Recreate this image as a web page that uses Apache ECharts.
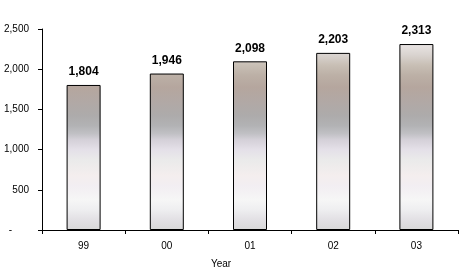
<!DOCTYPE html>
<html><head><meta charset="utf-8">
<script src="https://cdn.jsdelivr.net/npm/echarts@6/dist/echarts.min.js"></script>
<style>html,body{margin:0;padding:0;background:#fff}#c{width:459px;height:269px}</style>
</head><body><div id="c"></div>
<script>
const categories = ['99', '00', '01', '02', '03'];
const values = [1804, 1946, 2098, 2203, 2313];
const yTicks = [0, 500, 1000, 1500, 2000, 2500];

const W = 459, H = 269;
const grid = {left: 42, right: 1, top: 29, bottom: 39, containLabel: false, outerBoundsMode: 'none'};
const fill = new echarts.graphic.LinearGradient(0, grid.top, 0, H - grid.bottom, [
  {offset: 0.00, color: '#f0eded'},
  {offset: 0.07, color: '#ebe6e6'},
  {offset: 0.13, color: '#d9d3cf'},
  {offset: 0.18, color: '#c8bfb5'},
  {offset: 0.23, color: '#bcb0a6'},
  {offset: 0.29, color: '#b5a69e'},
  {offset: 0.35, color: '#b2a8a4'},
  {offset: 0.43, color: '#adabab'},
  {offset: 0.48, color: '#b2b2b4'},
  {offset: 0.52, color: '#c0c0c4'},
  {offset: 0.55, color: '#d4d0d8'},
  {offset: 0.60, color: '#e4e0e8'},
  {offset: 0.65, color: '#eaeaea'},
  {offset: 0.73, color: '#f4eeee'},
  {offset: 0.78, color: '#f2eef2'},
  {offset: 0.85, color: '#f6f6f6'},
  {offset: 0.90, color: '#eeeef0'},
  {offset: 0.95, color: '#e2e0e4'},
  {offset: 1.00, color: '#d8d8d8'}
], true);

const chart = echarts.init(document.getElementById('c'), null, {renderer: 'canvas'});
chart.setOption({
  animation: false,
  grid: grid,
  xAxis: {
    type: 'category',
    data: categories,
    name: 'Year',
    nameLocation: 'middle',
    nameGap: 29,
    nameTextStyle: {fontFamily: 'Liberation Sans', fontSize: 10, color: '#000', padding: [0, 58, 0, 0]},
    axisLine: {lineStyle: {color: '#000', width: 1}},
    axisTick: {show: true, length: 4, lineStyle: {color: '#000'}},
    axisLabel: {fontFamily: 'Liberation Sans', fontSize: 10, color: '#000', margin: 11}
  },
  yAxis: {
    type: 'value',
    min: yTicks[0],
    max: yTicks[yTicks.length - 1],
    interval: 500,
    axisLine: {show: true, lineStyle: {color: '#000', width: 1}},
    axisTick: {show: true, length: 4, lineStyle: {color: '#000'}},
    splitLine: {show: false},
    axisLabel: {
      fontFamily: 'Liberation Sans', fontSize: 10, color: '#000', margin: 13,
      formatter: function (v) { return v === 0 ? '{d|-}' : v.toLocaleString('en-US'); },
      rich: {d: {fontFamily: 'Liberation Sans', fontSize: 10, color: '#000', padding: [0, 17, 0, 0]}}
    }
  },
  series: [{
    type: 'bar',
    data: values,
    barWidth: 34,
    itemStyle: {color: fill, borderColor: '#000', borderWidth: 1},
    label: {
      show: true, position: 'top', distance: 7,
      fontFamily: 'Liberation Sans', fontSize: 12, fontWeight: 'bold', color: '#000',
      formatter: function (p) { return p.value.toLocaleString('en-US'); }
    }
  }]
});
</script></body></html>
